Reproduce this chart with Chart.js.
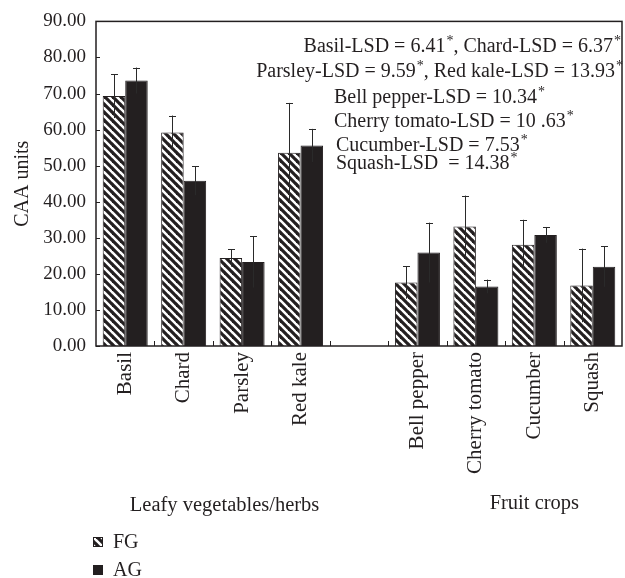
<!DOCTYPE html>
<html>
<head>
<meta charset="utf-8">
<script src="https://cdn.jsdelivr.net/npm/chart.js@4.4.1/dist/chart.umd.min.js"></script>
<style>
  html, body { margin: 0; padding: 0; background: #fff; }
  #wrap { width: 625px; height: 578px; }
</style>
</head>
<body>
<div id="wrap"><canvas id="caa"></canvas></div>
<script>
var crops = ["Basil", "Chard", "Parsley", "Red kale", "", "Bell pepper", "Cherry tomato", "Cucumber", "Squash"];
var fgValues = [69.3, 59.2, 24.4, 53.6, null, 17.6, 33.1, 28.1, 16.8];
var fgErrors = [6.1, 4.7, 2.4, 13.8, null, 4.5, 8.6, 6.9, 10.2];
var agValues = [73.6, 45.8, 23.3, 55.6, null, 25.9, 16.5, 30.8, 22.0];
var agErrors = [3.6, 4.0, 7.1, 4.6, null, 8.3, 1.9, 2.2, 5.6];
var groupNames = ["Leafy vegetables/herbs", "Fruit crops"];
var lsdLines = [
  "Basil-LSD = 6.41*, Chard-LSD = 6.37*",
  "Parsley-LSD = 9.59*, Red kale-LSD = 13.93*",
  "Bell pepper-LSD = 10.34*",
  "Cherry tomato-LSD = 10 .63*",
  "Cucumber-LSD = 7.53*",
  "Squash-LSD  = 14.38*"
];

var ink = "#231f20";
var serif = "'Liberation Serif', 'Times New Roman', serif";

// hatch for FG bars
function hatch() {
  var s = 8;
  var c = document.createElement("canvas");
  c.width = s; c.height = s;
  var g = c.getContext("2d");
  g.fillStyle = "#fff";
  g.fillRect(0, 0, s, s);
  g.strokeStyle = ink;
  g.lineWidth = 3.2;
  for (var k = -1; k <= 1; k++) {
    g.beginPath();
    g.moveTo(k * s - 1, -1);
    g.lineTo(k * s + s + 1, s + 1);
    g.stroke();
  }
  return g.createPattern(c, "repeat");
}
var fgPattern = hatch();

// text with superscript asterisks
function drawLsd(ctx, text, x, y, align) {
  var big = "20px " + serif, small = "14px " + serif;
  var parts = text.split("*");
  var w = 0;
  parts.forEach(function (p, i) {
    ctx.font = big; w += ctx.measureText(p).width;
    if (i < parts.length - 1) { ctx.font = small; w += ctx.measureText("*").width; }
  });
  var cx = align === "right" ? x - w : x;
  ctx.textAlign = "left";
  ctx.textBaseline = "alphabetic";
  parts.forEach(function (p, i) {
    ctx.font = big; ctx.fillText(p, cx, y); cx += ctx.measureText(p).width;
    if (i < parts.length - 1) {
      ctx.font = small; ctx.fillText("*", cx + 1, y - 7); cx += ctx.measureText("*").width + 1;
    }
  });
}

var extras = {
  id: "extras",
  afterDatasetsDraw: function (chart) {
    var ctx = chart.ctx, a = chart.chartArea;
    var xs = chart.scales.x, ys = chart.scales.y;
    ctx.save();
    // error bars
    ctx.strokeStyle = "#2a2a2a";
    ctx.lineWidth = 1;
    [fgErrors, agErrors].forEach(function (errs, d) {
      var meta = chart.getDatasetMeta(d);
      var vals = chart.data.datasets[d].data;
      meta.data.forEach(function (bar, j) {
        if (vals[j] == null) return;
        var top = ys.getPixelForValue(vals[j] + errs[j]);
        var bot = ys.getPixelForValue(vals[j] - errs[j]);
        var x = Math.round(bar.x) + 0.5;
        ctx.beginPath();
        ctx.moveTo(x, bot); ctx.lineTo(x, top);
        ctx.moveTo(x - 3.5, Math.round(top) + 0.5); ctx.lineTo(x + 3.5, Math.round(top) + 0.5);
        ctx.stroke();
      });
    });
    // frame and inside ticks
    ctx.strokeStyle = ink;
    ctx.lineWidth = 1.5;
    ctx.strokeRect(a.left, a.top, a.right - a.left, a.bottom - a.top);
    ctx.lineWidth = 1;
    ys.ticks.forEach(function (t) {
      var y = Math.round(ys.getPixelForValue(t.value)) + 0.5;
      ctx.beginPath(); ctx.moveTo(a.left, y); ctx.lineTo(a.left + 4, y); ctx.stroke();
    });
    for (var i = 1; i < crops.length; i++) {
      var x = Math.round(xs.getPixelForValue(i - 0.5)) + 0.5;
      ctx.beginPath(); ctx.moveTo(x, a.bottom); ctx.lineTo(x, a.bottom - 5); ctx.stroke();
    }
    // LSD notes
    ctx.fillStyle = ink;
    drawLsd(ctx, lsdLines[0], 619, 52, "right");
    drawLsd(ctx, lsdLines[1], 621, 77, "right");
    drawLsd(ctx, lsdLines[2], 334, 103, "left");
    drawLsd(ctx, lsdLines[3], 334, 127, "left");
    drawLsd(ctx, lsdLines[4], 336, 151, "left");
    drawLsd(ctx, lsdLines[5], 336, 169, "left");
    // group labels
    ctx.font = "20.5px " + serif;
    ctx.textAlign = "center";
    ctx.fillText(groupNames[0], xs.getPixelForValue(1.7), 511);
    ctx.fillText(groupNames[1], xs.getPixelForValue(7.0), 509);
    // legend
    ctx.textAlign = "left";
    ctx.font = "20px " + serif;
    chart.data.datasets.forEach(function (ds, d) {
      var y = 537 + d * 28;
      ctx.fillStyle = ds.backgroundColor;
      ctx.fillRect(93, y, 10, 10);
      ctx.strokeStyle = ink;
      ctx.strokeRect(93.5, y + 0.5, 9, 9);
      ctx.fillStyle = ink;
      ctx.fillText(ds.label, 113, y + 11);
    });
    ctx.restore();
  }
};

new Chart("caa", {
  type: "bar",
  data: {
    labels: crops,
    datasets: [
      { label: "FG", data: fgValues, backgroundColor: fgPattern, borderColor: ink, borderWidth: 1 },
      { label: "AG", data: agValues, backgroundColor: ink, borderColor: ink, borderWidth: 1 }
    ]
  },
  options: {
    responsive: true,
    maintainAspectRatio: false,
    animation: false,
    layout: { padding: { top: 21, right: 3, left: 0, bottom: 0 } },
    plugins: { legend: { display: false }, tooltip: { enabled: false } },
    datasets: { bar: { categoryPercentage: 0.77, barPercentage: 1.0 } },
    scales: {
      x: {
        grid: { display: false, drawTicks: false },
        border: { display: false },
        ticks: { color: ink, font: { family: serif, size: 21 }, minRotation: 90, maxRotation: 90, padding: 6, autoSkip: false },
        afterFit: function (s) { s.height = 232; }
      },
      y: {
        min: 0, max: 90,
        grid: { display: false, drawTicks: false },
        border: { display: false },
        ticks: { stepSize: 10, color: ink, font: { family: serif, size: 19 }, padding: 10,
          callback: function (v) { return v.toFixed(2); } },
        title: { display: true, text: "CAA units", color: ink, font: { family: serif, size: 20 }, padding: { top: 11, bottom: 0 } },
        afterFit: function (s) { s.width = 96; }
      }
    }
  },
  plugins: [extras]
});
</script>
</body>
</html>
